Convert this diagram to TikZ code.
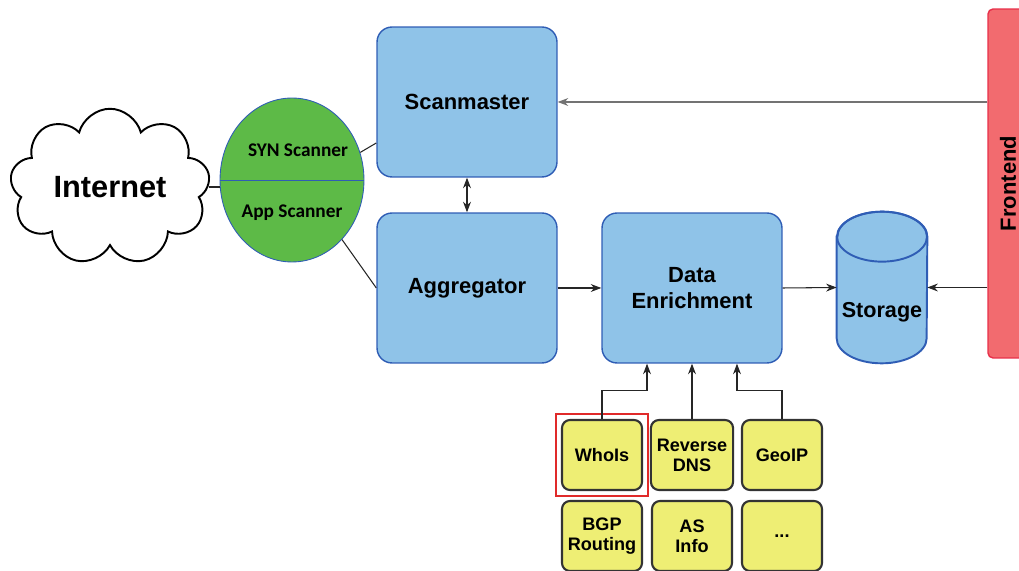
\documentclass[tikz,border=0pt]{standalone}
\usepackage{fontspec}
\setmainfont{Liberation Sans}
\newfontfamily\calfont{Carlito}
\usetikzlibrary{shapes.geometric,shapes.symbols,arrows.meta,fit}

\definecolor{boxblue}{HTML}{8FC3E8}
\definecolor{lineblue}{HTML}{2F5DB5}
\definecolor{scangreen}{HTML}{5DBA47}
\definecolor{srcyellow}{HTML}{EEEE74}
\definecolor{frontred}{HTML}{F26B6F}
\definecolor{frontline}{HTML}{E8304A}
\definecolor{hlred}{HTML}{E02A2A}

\tikzset{
  block/.style={draw=lineblue, fill=boxblue, line width=0.8pt, rounded corners=0.3cm,
    minimum width=3.6cm, minimum height=3cm, align=center,
    font=\bfseries\fontsize{12.5}{15}\selectfont},
  source/.style={draw=black!80, fill=srcyellow, line width=1.2pt, rounded corners=0.16cm,
    minimum width=1.6cm, minimum height=1.4cm, align=center,
    font=\bfseries\fontsize{10.3}{11.5}\selectfont},
  scantext/.style={font=\calfont\bfseries\fontsize{11}{13}\selectfont},
  flow/.style={-{Stealth[length=6pt,width=4.5pt]}, line width=0.6pt, black!85},
}

\begin{document}
\begin{tikzpicture}[x=0.02cm,y=0.02cm]
\useasboundingbox (0,0) rectangle (1019,571);
\clip (0,0) rectangle (1019,571);

% internet and scanners
\node[cloud, cloud puffs=9, aspect=1.5, draw, line width=1.1pt, minimum width=4cm, minimum height=2.75cm,
  font=\bfseries\fontsize{17.5}{20}\selectfont] (inet) at (110,384) {Internet};
\node[ellipse, draw=lineblue, fill=scangreen, line width=0.5pt, minimum width=2.88cm,
  minimum height=3.28cm, inner sep=0pt] (scanner) at (292,391) {};
\draw[lineblue, line width=0.5pt] (scanner.west) -- (scanner.east);
\node[scantext] (syn) at (298,421) {SYN Scanner};
\node[scantext] (app) at (292,358) {App Scanner};

% main blocks
\node[block] (smaster) at (467,469) {Scanmaster};
\node[block] (aggr) at (467,283) {Aggregator};
\node[block] (enrich) at (692,283) {Data\\Enrichment};

% storage
\node[minimum width=1.8cm, minimum height=3.02cm, inner sep=0pt] (store) at (882,283.5) {};
\draw[draw=lineblue, fill=boxblue, line width=1.1pt] ([yshift=-0.5cm]store.north west)
  -- ([yshift=0.5cm]store.south west) arc[start angle=180, end angle=360, x radius=0.9cm, y radius=0.5cm]
  -- ([yshift=-0.5cm]store.north east) arc[start angle=0, end angle=180, x radius=0.9cm, y radius=0.5cm]
  -- cycle;
\draw[lineblue, line width=1.1pt] ([yshift=-0.5cm]store.north) ellipse[x radius=0.9cm, y radius=0.5cm];
\node[font=\bfseries\fontsize{12.3}{15}\selectfont] (storelbl) at (882,259) {Storage};

% frontend
\node[draw=frontline, fill=frontred, line width=0.8pt, rounded corners=0.1cm,
  minimum width=0.8cm, minimum height=6.98cm] (front) at (1008,387.5) {};
\node[rotate=90, font=\bfseries\fontsize{12.5}{15}\selectfont] (frontlbl) at (front.center) {Frontend};

% data sources
\node[source] (whois) at (602,116) {WhoIs};
\node[source] (rdns) at (692,116) {Reverse\\DNS};
\node[source] (geoip) at (782,116) {GeoIP};
\node[source] (bgp) at (602,35) {BGP\\Routing};
\node[source] (asinfo) at (692,35) {AS\\Info};
\node[source] (more) at (782,35) {...};
\node[draw=hlred, line width=1pt, fit=(whois), inner sep=0.1cm] (hl) {};

% connections
\draw[line width=0.6pt, black!85] (inet.east) -- (inet.east -| scanner.west);
\draw[line width=0.6pt, black!85] (scanner.22) -- ([yshift=-0.82cm]smaster.west);
\draw[line width=0.6pt, black!85] (scanner.-50) -- (aggr.west);
\draw[flow, {Stealth[length=6pt,width=4.5pt]}-{Stealth[length=6pt,width=4.5pt]}] (smaster.south) -- (aggr.north);
\draw[flow] (aggr.east) -- (enrich.west);
\draw[flow] (enrich.east) -- (store.west);
\draw[flow] (front.west |- store.east) -- (store.east);
\draw[flow, black!55] (front.west |- smaster.east) -- (smaster.east);
\draw[flow] (whois.north) -- ++(0,28) -| ([xshift=-0.9cm]enrich.south);
\draw[flow] (rdns.north) -- (enrich.south);
\draw[flow] (geoip.north) -- ++(0,28) -| ([xshift=0.9cm]enrich.south);
\end{tikzpicture}
\end{document}
